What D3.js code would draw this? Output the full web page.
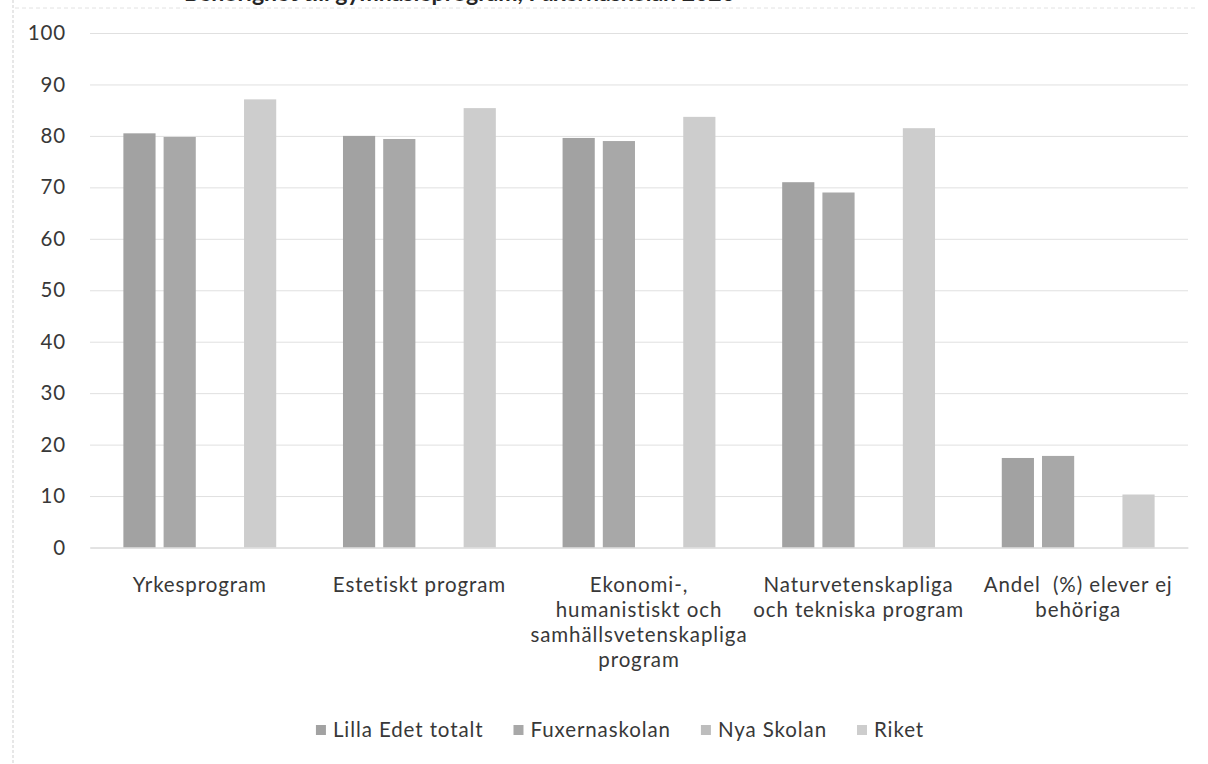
<!DOCTYPE html>
<html>
<head>
<meta charset="utf-8">
<script src="https://cdn.jsdelivr.net/npm/d3@7"></script>
<style>
  html, body { margin: 0; padding: 0; background: #ffffff; }
  svg { display: block; font-family: Lato, "Open Sans", sans-serif; }
  svg text { white-space: pre; }
</style>
</head>
<body>
<svg id="chart" width="1208" height="764"></svg>
<script>
// Programme groups (line breaks follow the wrapped axis labels)
const categories = [
  "Yrkesprogram",
  "Estetiskt program",
  "Ekonomi-,\nhumanistiskt och\nsamhällsvetenskapliga\nprogram",
  "Naturvetenskapliga\noch tekniska program",
  "Andel  (%) elever ej\nbehöriga"
];

const seriesNames = ["Lilla Edet totalt", "Fuxernaskolan", "Nya Skolan", "Riket"];

// Share of pupils (%) per programme group
const lillaEdetTotalt = [80.5, 80.0, 79.6, 71.0, 17.4];
const fuxernaskolan   = [79.8, 79.4, 79.0, 69.0, 17.8];
const nyaSkolan       = [null, null, null, null, null];
const riket           = [87.1, 85.4, 83.7, 81.5, 10.3];

const yTicks = [0, 10, 20, 30, 40, 50, 60, 70, 80, 90, 100];

const seriesValues = [lillaEdetTotalt, fuxernaskolan, nyaSkolan, riket];
const seriesColors = ["#a2a2a2", "#a8a8a8", "#bdbdbd", "#cdcdcd"];

const FONT = "Lato, \"Open Sans\", sans-serif";
const FONT_SIZE = 20.5;
const LETTER_SP = 0.9;
const TEXT_COLOR = "#383838";

const svg = d3.select("#chart");
const W = 1208, H = 764;
const plot = { left: 90, right: 1188, top: 33, bottom: 547.5 };

// Frame remnants of the page
svg.append("line")
  .attr("x1", 13).attr("x2", 13).attr("y1", 0).attr("y2", H)
  .attr("stroke", "#cfcfcf").attr("stroke-width", 1).attr("stroke-dasharray", "3,2");
svg.append("line")
  .attr("x1", 15).attr("x2", 1195).attr("y1", 8).attr("y2", 8)
  .attr("stroke", "#e2e2e2").attr("stroke-width", 1).attr("stroke-dasharray", "4,3");

// Chart title (runs off the top edge)
svg.append("text")
  .attr("x", 735).attr("y", 0.5)
  .attr("text-anchor", "end")
  .attr("font-family", FONT)
  .attr("font-size", 23).attr("font-weight", 700)
  .attr("fill", "#262626")
  .text("Behörighet till gymnasieprogram, Fuxernaskolan 2020");

const y = d3.scaleLinear().domain([0, 100]).range([plot.bottom, plot.top]);

const x0 = d3.scaleBand()
  .domain(categories)
  .range([plot.left, plot.right])
  .paddingInner(0.304)
  .paddingOuter(0.152);

const x1 = d3.scaleBand()
  .domain(seriesNames)
  .range([0, x0.bandwidth()])
  .paddingInner(0.2)
  .paddingOuter(0);

// Horizontal gridlines
const grid = svg.append("g")
  .attr("transform", `translate(${plot.left},0)`)
  .call(d3.axisLeft(y).tickValues(yTicks).tickSize(-(plot.right - plot.left)).tickFormat(""));
grid.select(".domain").remove();
grid.selectAll(".tick line").attr("stroke", "#e0e0e0").attr("stroke-width", 1);

// Y axis labels
const yAxis = svg.append("g")
  .attr("transform", `translate(${plot.left},0)`)
  .call(d3.axisLeft(y).tickValues(yTicks).tickSize(0).tickPadding(24));
yAxis.select(".domain").remove();
yAxis.selectAll(".tick text")
  .attr("font-family", FONT)
  .attr("font-size", FONT_SIZE)
  .attr("letter-spacing", LETTER_SP)
  .attr("fill", TEXT_COLOR);

// Bars
const rows = categories.map((c, i) => ({
  category: c,
  values: seriesNames.map((s, k) => ({ series: s, value: seriesValues[k][i], color: seriesColors[k] }))
}));

const groups = svg.append("g").selectAll("g")
  .data(rows)
  .join("g")
  .attr("transform", d => `translate(${x0(d.category)},0)`);

groups.selectAll("rect")
  .data(d => d.values.filter(v => v.value != null))
  .join("rect")
  .attr("x", d => x1(d.series))
  .attr("width", x1.bandwidth())
  .attr("y", d => y(d.value))
  .attr("height", d => y(0) - y(d.value))
  .attr("fill", d => d.color);

// Category axis
const xAxis = svg.append("g")
  .attr("transform", `translate(0,${plot.bottom})`)
  .call(d3.axisBottom(x0).tickSize(0).tickFormat(""));
xAxis.select(".domain").attr("stroke", "#d6d6d6");

xAxis.selectAll(".tick").each(function(d) {
  const lines = d.split("\n");
  lines.forEach((ln, i) => {
    d3.select(this).append("text")
      .attr("text-anchor", "middle")
      .attr("x", 0)
      .attr("y", 44 + i * 25)
      .attr("font-family", FONT)
      .attr("font-size", FONT_SIZE)
      .attr("letter-spacing", LETTER_SP)
      .attr("fill", TEXT_COLOR)
      .text(ln);
  });
});

// Legend
const legend = svg.append("g")
  .attr("font-family", FONT)
  .attr("font-size", FONT_SIZE)
  .attr("letter-spacing", LETTER_SP)
  .attr("fill", TEXT_COLOR);
const items = legend.selectAll("g").data(seriesNames).join("g");
items.append("rect")
  .attr("width", 10).attr("height", 10)
  .attr("y", -5)
  .attr("fill", (d, i) => seriesColors[i]);
items.append("text")
  .attr("x", 17).attr("y", 7)
  .text(d => d);

let cursor = 0;
const offsets = [];
items.each(function() {
  const w = this.getBBox().width;
  offsets.push(cursor);
  cursor += w + 30;
});
const totalW = cursor - 30;
const legendLeft = 620 - totalW / 2;
items.attr("transform", (d, i) => `translate(${legendLeft + offsets[i]},730)`);
</script>
</body>
</html>
